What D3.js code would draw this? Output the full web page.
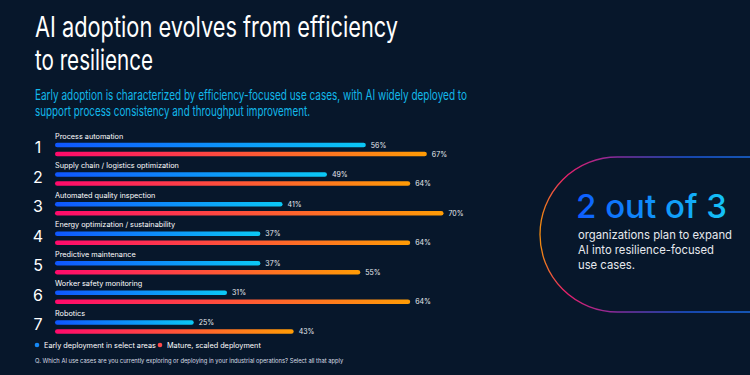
<html>
<head>
<meta charset="utf-8">
<title>AI adoption</title>
<script src="https://d3js.org/d3.v7.min.js"></script>
<style>
  body { margin: 0; background: #07172b; }
  svg { display: block; font-family: Inter, "Noto Sans", sans-serif; }
</style>
</head>
<body>
<svg width="750" height="375"></svg>
<script>
// data
var categories = ["Process automation", "Supply chain / logistics optimization", "Automated quality inspection",
  "Energy optimization / sustainability", "Predictive maintenance", "Worker safety monitoring", "Robotics"];
var earlyValues = [56, 49, 41, 37, 37, 31, 25];
var matureValues = [67, 64, 70, 64, 55, 64, 43];
var seriesNames = ["Early deployment in select areas", "Mature, scaled deployment"];

var svg = d3.select("svg");
svg.append("rect").attr("width", 750).attr("height", 375).attr("fill", "#07172b");

var defs = svg.append("defs");
function grad(id, c0, c1) {
  var g = defs.append("linearGradient").attr("id", id).attr("x1", "0%").attr("x2", "100%").attr("y1", "0%").attr("y2", "0%");
  g.append("stop").attr("offset", "0%").attr("stop-color", c0);
  g.append("stop").attr("offset", "100%").attr("stop-color", c1);
}
grad("gEarly", "#0f56ff", "#0bc8f5");
grad("gMature", "#ff0a6c", "#ff9c05");
grad("gBig", "#0d5cff", "#14c4f6");

var pg = defs.append("linearGradient").attr("id", "gPill").attr("gradientUnits", "userSpaceOnUse")
  .attr("x1", 540).attr("x2", 750).attr("y1", 0).attr("y2", 0);
[["0", "#f08a10"], ["0.12", "#e8206a"], ["0.35", "#8a2a9a"], ["0.7", "#1c56d8"], ["1", "#1a6ae0"]].forEach(function(s) {
  pg.append("stop").attr("offset", s[0]).attr("stop-color", s[1]);
});

// fit a text line to a measured width
function fit(sel, w) {
  sel.attr("textLength", w).attr("lengthAdjust", "spacingAndGlyphs");
}

// titles
var title = svg.append("g").attr("fill", "#fff").style("font-size", "28px");
fit(title.append("text").attr("x", 35).attr("y", 37).text("AI adoption evolves from efficiency"), 363);
fit(title.append("text").attr("x", 35).attr("y", 70).text("to resilience"), 118);

var sub = svg.append("g").attr("fill", "#12b8ea").style("font-size", "14px");
fit(sub.append("text").attr("x", 35).attr("y", 100).text("Early adoption is characterized by efficiency-focused use cases, with AI widely deployed to"), 432);
fit(sub.append("text").attr("x", 35).attr("y", 116).text("support process consistency and throughput improvement."), 275);

// scales
var x = d3.scaleLinear().domain([0, 100]).range([55, 610]);
var y = d3.scaleBand().domain(categories).range([131, 338]);

var rows = svg.append("g").selectAll("g").data(categories).enter().append("g")
  .attr("transform", function(d) { return "translate(0," + y(d) + ")"; });

rows.append("text").attr("x", 38).attr("y", 22).attr("text-anchor", "middle")
  .attr("fill", "#fff").style("font-size", "16px").text(function(d, i) { return i + 1; });

rows.append("text").attr("x", 55).attr("y", 7.5).attr("fill", "#fff")
  .style("font-size", "7.3px").text(function(d) { return d; });

var barH = 4.5;
function bars(vals, yy, fill) {
  rows.append("rect").attr("x", x(0)).attr("y", yy - barH / 2)
    .attr("width", function(d, i) { return x(vals[i]) - x(0); })
    .attr("height", barH).attr("rx", barH / 2).attr("fill", fill);
  rows.append("text").attr("x", function(d, i) { return x(vals[i]) + 5; }).attr("y", yy + 2.5)
    .attr("fill", "#e8ebf0").style("font-size", "7px").text(function(d, i) { return vals[i] + "%"; });
}
bars(earlyValues, 14, "url(#gEarly)");
bars(matureValues, 23, "url(#gMature)");

// legend
var leg = svg.append("g").attr("transform", "translate(37,345)");
var legX = [0, 123];
var legCol = ["#1688f5", "#ff4a4a"];
seriesNames.forEach(function(n, i) {
  leg.append("circle").attr("cx", legX[i]).attr("cy", 0).attr("r", 2.3).attr("fill", legCol[i]);
  leg.append("text").attr("x", legX[i] + 7).attr("y", 2.6).attr("fill", "#fff").style("font-size", "7.3px").text(n);
});

svg.append("text").attr("x", 35).attr("y", 363).attr("fill", "#d8dde5").style("font-size", "5.8px")
  .text("Q. Which AI use cases are you currently exploring or deploying in your industrial operations? Select all that apply");

// callout
var top0 = 157, bot0 = 312, r = (bot0 - top0) / 2, left0 = 540;
svg.append("path")
  .attr("d", "M760," + top0 + " L" + (left0 + r) + "," + top0 + " A" + r + "," + r + " 0 0 0 " + (left0 + r) + "," + bot0 + " L760," + bot0)
  .attr("fill", "none").attr("stroke", "url(#gPill)").attr("stroke-width", 1.3);

svg.append("text").attr("x", 576).attr("y", 218).attr("fill", "url(#gBig)")
  .style("font-size", "33px").style("font-weight", 500).text("2 out of 3");
var ct = svg.append("g").attr("fill", "#e6e9ee").style("font-size", "12px");
var ctLines = ["organizations plan to expand", "AI into resilience-focused", "use cases."];
var ctW = [154, 136, 57];
ctLines.forEach(function(t, i) {
  fit(ct.append("text").attr("x", 578).attr("y", 239 + i * 15).text(t), ctW[i]);
});
</script>
</body>
</html>
